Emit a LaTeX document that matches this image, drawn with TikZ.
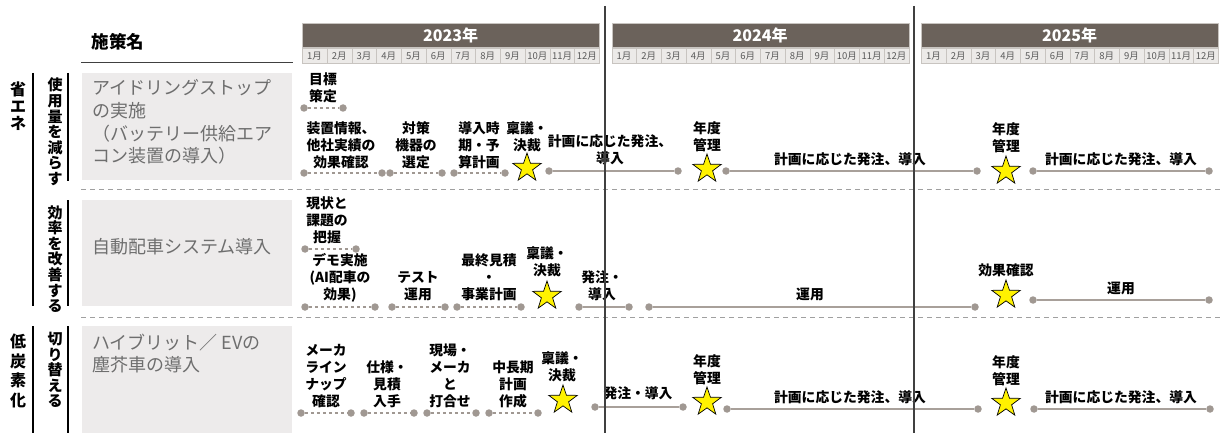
\documentclass[tikz,border=0pt]{standalone}
\usepackage{fontspec}
\setmainfont{Noto Sans CJK JP}
\usetikzlibrary{shapes.geometric}

\definecolor{barbrown}{RGB}{107,98,91}
\definecolor{monthfill}{RGB}{236,234,232}
\definecolor{monthline}{RGB}{200,196,192}
\definecolor{monthtext}{RGB}{90,90,90}
\definecolor{boxfill}{RGB}{237,235,235}
\definecolor{txtgray}{RGB}{110,110,110}
\definecolor{dotgray}{RGB}{160,152,146}
\definecolor{linegray}{RGB}{168,160,154}
\definecolor{sepgray}{RGB}{160,160,160}

\tikzset{
  ptdot/.style={circle, fill=dotgray, inner sep=0pt, minimum size=7.5pt},
  planline/.style={draw=dotgray, line width=1.1pt, dash pattern=on 3.5pt off 2.5pt},
  runline/.style={draw=linegray, line width=1.8pt},
  milestone/.style={star, star points=5, star point ratio=2.55, draw=black, line width=0.7pt,
    fill=yellow, minimum size=30pt, inner sep=0pt},
  lbl/.style={font=\bfseries\fontsize{13.8}{17}\selectfont, align=center, inner sep=0pt},
  boxtxt/.style={font=\fontsize{18}{22.7}\selectfont, text=txtgray, align=left, anchor=west, inner sep=0pt},
  vlbl/.style={font=\bfseries\fontsize{15}{15.6}\selectfont, align=center, inner sep=0pt},
  yearbar/.style={fill=barbrown, draw=monthline, minimum width=297pt, minimum height=24pt,
    text=white, font=\bfseries\fontsize{16}{16}\selectfont, inner sep=0pt, anchor=north west},
  monthcell/.style={fill=monthfill, draw=monthline, minimum width=24.75pt, minimum height=15.5pt,
    text=monthtext, font=\fontsize{9.5}{10}\selectfont, inner sep=0pt, anchor=north west},
  sepline/.style={draw=sepgray, line width=1pt, dash pattern=on 5pt off 4pt},
  groupline/.style={draw=black, line width=1.3pt},
  divider/.style={draw=black!75, line width=1.3pt},
}

\begin{document}
\begin{tikzpicture}[x=1pt,y=-1pt]
  \useasboundingbox (0,0) rectangle (1220,433);

  \node[font=\bfseries\fontsize{17.5}{17.5}\selectfont] (title) at (118,42) {施策名};
  \coordinate (ul1) at (81,63);
  \coordinate (ul2) at (293,63);
  \draw[black!75, line width=1pt] (ul1) -- (ul2);

  \foreach \yr [count=\i from 0] in {2023,2024,2025}{
    \pgfmathsetmacro{\xo}{302+309.5*\i}
    \node[yearbar] (y\yr) at (\xo,23) {\yr{}年};
    \foreach \m in {1,...,12}
      \node[monthcell] (m\yr-\m) at ({\xo+24.75*(\m-1)},48) {\m{}月};
  }

  \begin{scope}[every node/.style={fill=boxfill, anchor=north west, inner sep=0pt}]
    \node[minimum width=210pt, minimum height=107pt] (box1) at (82,73) {};
    \node[minimum width=210pt, minimum height=106pt] (box2) at (82,200) {};
    \node[minimum width=210pt, minimum height=107pt] (box3) at (82,326) {};
  \end{scope}

  \node[boxtxt] (t1) at (92,122) {アイドリングストップ\\の実施\\（バッテリー供給エア\\コン装置の導入）};
  \node[boxtxt] (t2) at (92,247) {自動配車システム導入};
  \node[boxtxt] (t3) at (92,353.5) {ハイブリット／ EVの\\塵芥車の導入};

  \node[vlbl, font=\bfseries\fontsize{16}{17}\selectfont] (k1) at (18,106) {省\\エ\\ネ};
  \node[vlbl, font=\bfseries\fontsize{16}{19.5}\selectfont] (k2) at (18,371) {低\\炭\\素\\化};
  \node[vlbl] (g1) at (55,132) {使\\用\\量\\を\\減\\ら\\す};
  \node[vlbl] (g2) at (55,259) {効\\率\\を\\改\\善\\す\\る};
  \node[vlbl] (g3) at (55,370) {切\\り\\替\\え\\る};

  \coordinate (gl1a) at (33,73);  \coordinate (gl1b) at (33,306);
  \coordinate (gl2a) at (33,326); \coordinate (gl2b) at (33,433);
  \coordinate (gl3a) at (68,73);  \coordinate (gl3b) at (68,181);
  \coordinate (gl4a) at (68,200); \coordinate (gl4b) at (68,306);
  \coordinate (gl5a) at (68,326); \coordinate (gl5b) at (68,433);
  \draw[groupline] (gl1a) -- (gl1b) (gl2a) -- (gl2b) (gl3a) -- (gl3b)
    (gl4a) -- (gl4b) (gl5a) -- (gl5b);

  \coordinate (sp1a) at (81,189.5); \coordinate (sp1b) at (1220,189.5);
  \coordinate (sp2a) at (81,317);   \coordinate (sp2b) at (1220,317);
  \draw[sepline] (sp1a) -- (sp1b) (sp2a) -- (sp2b);

  \begin{scope}[every node/.style={ptdot}]
    \node (a1)  at (304,108) {};
    \node (a2)  at (343,108) {};
    \node (a3)  at (304,173) {};
    \node (a4)  at (382,173) {};
    \node (a5)  at (390,173) {};
    \node (a6)  at (442,173) {};
    \node (a7)  at (454,173) {};
    \node (a8)  at (505,173) {};
    \node (a9)  at (549,171) {};
    \node (a10) at (678,171) {};
    \node (a11) at (726,171) {};
    \node (a12) at (977,171) {};
    \node (a13) at (1033,171) {};
    \node (a14) at (1209,171) {};

    \node (b1)  at (305,249) {};
    \node (b2)  at (356,249) {};
    \node (b3)  at (305,307) {};
    \node (b4)  at (375,307) {};
    \node (b5)  at (392,307) {};
    \node (b6)  at (445,307) {};
    \node (b7)  at (457,307) {};
    \node (b8)  at (521,307) {};
    \node (b9)  at (579,307) {};
    \node (b10) at (629,307) {};
    \node (b11) at (649,307) {};
    \node (b12) at (975,307) {};
    \node (b13) at (1033,300) {};
    \node (b14) at (1209,300) {};

    \node (c1)  at (301,413) {};
    \node (c2)  at (351,413) {};
    \node (c3)  at (364,413) {};
    \node (c4)  at (414,413) {};
    \node (c5)  at (427,413) {};
    \node (c6)  at (476,413) {};
    \node (c7)  at (489,413) {};
    \node (c8)  at (538,413) {};
    \node (c9)  at (595,407) {};
    \node (c10) at (683,407) {};
    \node (c11) at (727,409) {};
    \node (c12) at (978,409) {};
    \node (c13) at (1034,409) {};
    \node (c14) at (1210,409) {};
  \end{scope}

  \begin{scope}[every edge/.style={planline}]
    \path (a1) edge (a2);
    \path (a3) edge (a4);
    \path (a5) edge (a6);
    \path (a7) edge (a8);
    \path (b1) edge (b2);
    \path (b3) edge (b4);
    \path (b5) edge (b6);
    \path (b7) edge (b8);
    \path (c1) edge (c2);
    \path (c3) edge (c4);
    \path (c5) edge (c6);
    \path (c7) edge (c8);
  \end{scope}

  \begin{scope}[every edge/.style={runline}]
    \path (a9)  edge (a10);
    \path (a11) edge (a12);
    \path (a13) edge (a14);
    \path (b9)  edge (b10);
    \path (b11) edge (b12);
    \path (b13) edge (b14);
    \path (c9)  edge (c10);
    \path (c11) edge (c12);
    \path (c13) edge (c14);
  \end{scope}

  \begin{scope}[every node/.style={milestone}]
    \node (s1) at (527,168) {};
    \node (s2) at (707,169) {};
    \node (s3) at (1006,171) {};
    \node (s4) at (547,296) {};
    \node (s5) at (1006,295) {};
    \node (s6) at (563,400) {};
    \node (s7) at (707,402) {};
    \node (s8) at (1006,403) {};
  \end{scope}

  \begin{scope}[every node/.style={lbl}]
    \node (la1)  at (323,88)    {目標\\策定};
    \node (la2)  at (341,145)   {装置情報、\\他社実績の\\効果確認};
    \node (la3)  at (416,145)   {対策\\機器の\\選定};
    \node (la4)  at (479,145)   {導入時\\期・予\\算計画};
    \node (la5)  at (527,136.5) {稟議・\\決裁};
    \node (la6)  at (610,149.5) {計画に応じた発注、\\導入};
    \node (la7)  at (707,137)   {年度\\管理};
    \node (la8)  at (850,159)   {計画に応じた発注、導入};
    \node (la9)  at (1006,137.5){年度\\管理};
    \node (la10) at (1121,159)  {計画に応じた発注、導入};

    \node (lb1)  at (327,220)   {現状と\\課題の\\把握};
    \node (lb2)  at (340,277.5) {デモ実施\\(AI配車の\\効果)};
    \node (lb3)  at (418,286)   {テスト\\運用};
    \node (lb4)  at (489,277.5) {最終見積\\・\\事業計画};
    \node (lb5)  at (547,262)   {稟議・\\決裁};
    \node (lb6)  at (602,285.5) {発注・\\導入};
    \node (lb7)  at (810,294)   {運用};
    \node (lb8)  at (1006,270)  {効果確認};
    \node (lb9)  at (1121,288)  {運用};

    \node (lc1)  at (326,376)   {メーカ\\ライン\\ナップ\\確認};
    \node (lc2)  at (387,384)   {仕様・\\見積\\入手};
    \node (lc3)  at (450,376)   {現場・\\メーカ\\と\\打合せ};
    \node (lc4)  at (513,384)   {中長期\\計画\\作成};
    \node (lc5)  at (562,367)   {稟議・\\決裁};
    \node (lc6)  at (638,393)   {発注・導入};
    \node (lc7)  at (707,369.5) {年度\\管理};
    \node (lc8)  at (850,397)   {計画に応じた発注、導入};
    \node (lc9)  at (1006,370.5){年度\\管理};
    \node (lc10) at (1121,397)  {計画に応じた発注、導入};
  \end{scope}

  \coordinate (v1a) at (605,6); \coordinate (v1b) at (605,433);
  \coordinate (v2a) at (914,6); \coordinate (v2b) at (914,433);
  \draw[divider] (v1a) -- (v1b) (v2a) -- (v2b);

\end{tikzpicture}
\end{document}
